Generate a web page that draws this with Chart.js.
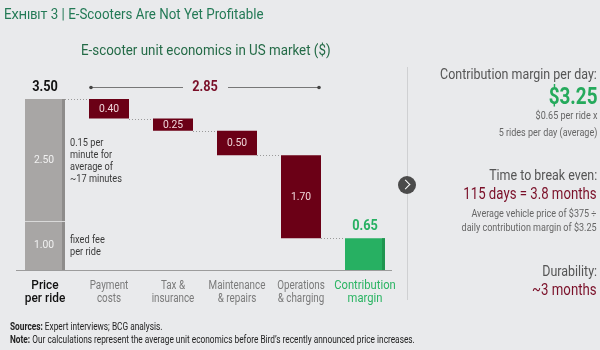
<!DOCTYPE html>
<html>
<head>
<meta charset="utf-8">
<script src="https://cdn.jsdelivr.net/npm/chart.js@4.4.1/dist/chart.umd.min.js"></script>
<style>
  html, body { margin: 0; padding: 0; }
  body { width: 600px; height: 350px; background: #e9eaec; position: relative; overflow: hidden;
         font-family: Roboto, "Noto Sans", sans-serif; }
  #c { position: absolute; left: 0; top: 0; }
  .t { position: absolute; white-space: nowrap; transform-origin: left top; }
  #title { left: 4px; top: 6px; font-size: 14.5px; color: #237a56; transform: scaleX(0.92); }
  #title .sc { font-variant: small-caps; }
  #sub { left: 81px; top: 41px; font-size: 15px; color: #246b47; transform: scaleX(0.89); }
  #divider { position: absolute; left: 407px; top: 67px; width: 1px; height: 233px; background: #cfd0d2; }
  #arrow { position: absolute; left: 398px; top: 176px; width: 18px; height: 18px; border-radius: 50%; background: #4b4b4b; }
  #arrow:after { content: ""; position: absolute; left: 4px; top: 5px; width: 6px; height: 6px;
                 border-right: 1.5px solid #fff; border-top: 1.5px solid #fff; transform: rotate(45deg); }
  .r { position: absolute; right: 3px; text-align: right; white-space: nowrap; transform-origin: right top; }
  .h { font-size: 15px; color: #555; transform: scaleX(0.83); }
  .s { font-size: 11px; color: #666; transform: scaleX(0.82); }
  .m { font-size: 16.5px; color: #7a0f28; transform: scaleX(0.8); }
  #foot { left: 10px; top: 320px; font-size: 10.5px; color: #222; line-height: 13px; transform: scaleX(0.79); }
</style>
</head>
<body>
<canvas id="c" width="600" height="350"></canvas>
<div class="t" id="title"><span class="sc">Exhibit 3</span> | E-Scooters Are Not Yet Profitable</div>
<div class="t" id="sub">E-scooter unit economics in US market ($)</div>
<div id="divider"></div>
<div id="arrow"></div>
<div class="r h" style="top:65px">Contribution margin per day:</div>
<div class="r" style="top:83px;font-size:23px;font-weight:bold;color:#25aa5c;transform:scaleX(0.82)">$3.25</div>
<div class="r s" style="top:109px">$0.65 per ride x</div>
<div class="r s" style="top:126px">5 rides per day (average)</div>
<div class="r h" style="top:166px">Time to break even:</div>
<div class="r m" style="top:184px">115 days = 3.8 months</div>
<div class="r s" style="top:207px">Average vehicle price of $375 ÷</div>
<div class="r s" style="top:221px">daily contribution margin of $3.25</div>
<div class="r h" style="top:262px">Durability:</div>
<div class="r m" style="top:280px">~3 months</div>
<div class="t" id="foot"><b>Sources:</b> Expert interviews; BCG analysis.<br><b>Note:</b> Our calculations represent the average unit economics before Bird’s recently announced price increases.</div>
<script>
const categories = [['Price', 'per ride'], ['Payment', 'costs'], ['Tax &', 'insurance'],
  ['Maintenance', '& repairs'], ['Operations', '& charging'], ['Contribution', 'margin']];
const priceParts = [1.00, 2.50];          // fixed fee, per-minute part
const costValues = [0.40, 0.25, 0.50, 1.70];
const marginValue = 0.65;
const totalCostLabel = '2.85';

const GRAY = '#a8a6a5', GRAY_EDGE = '#8e8c8b', RED = '#6b0016', GREEN = '#27b062', GREEN_EDGE = '#1f9550';
const FONT = 'Roboto, "Noto Sans", sans-serif';

const price = priceParts[0] + priceParts[1];
const lowData = [[0, priceParts[0]], null, null, null, null, [0, marginValue]];
const upData = [[priceParts[0], price]];
let level = price;
costValues.forEach(v => { upData.push([+(level - v).toFixed(2), +level.toFixed(2)]); level -= v; });
upData.push(null);

// narrow text helper (source font is condensed)
function txt(ctx, s, x, y, sx) {
  ctx.save(); ctx.translate(x, y); ctx.scale(sx, 1); ctx.fillText(s, 0, 0); ctx.restore();
}

const annotations = {
  id: 'annotations',
  afterDatasetsDraw(chart) {
    const ctx = chart.ctx, x = chart.scales.x, y = chart.scales.y, area = chart.chartArea;
    const lowBars = chart.getDatasetMeta(0).data, upBars = chart.getDatasetMeta(1).data;
    const edges = b => [b.x - b.width / 2, b.x + b.width / 2];
    ctx.save();
    // darker right edges
    [[lowBars[0], GRAY_EDGE], [upBars[0], GRAY_EDGE], [lowBars[5], GREEN_EDGE]].forEach(([b, c]) => {
      const r = edges(b)[1];
      ctx.fillStyle = c;
      ctx.fillRect(r - 3, Math.min(b.y, b.base), 3, Math.abs(b.base - b.y));
    });
    // separator in price bar
    const [pl, pr] = edges(lowBars[0]);
    const sy = Math.round(y.getPixelForValue(priceParts[0])) + 0.5;
    ctx.strokeStyle = '#d9d9d9'; ctx.lineWidth = 1;
    ctx.beginPath(); ctx.moveTo(pl, sy); ctx.lineTo(pr, sy); ctx.stroke();
    // dotted connectors
    ctx.strokeStyle = '#9a9a9a'; ctx.setLineDash([1, 2]);
    let lv = price;
    for (let i = 0; i < 5; i++) {
      const r = edges(upBars[i])[1];
      const next = i < 4 ? upBars[i + 1] : lowBars[5];
      const l = edges(next)[0];
      if (i > 0) lv -= costValues[i - 1];
      const py = Math.round(y.getPixelForValue(lv)) + 0.5;
      ctx.beginPath(); ctx.moveTo(r, py); ctx.lineTo(l, py); ctx.stroke();
    }
    ctx.setLineDash([]);
    // baseline
    const by = Math.round(y.getPixelForValue(0)) + 0.5;
    ctx.strokeStyle = '#9c9c9c';
    ctx.beginPath(); ctx.moveTo(area.left + 3, by); ctx.lineTo(area.right - 5, by); ctx.stroke();
    // in-bar labels
    ctx.textAlign = 'center'; ctx.textBaseline = 'middle';
    ctx.font = '11.5px ' + FONT;
    ctx.fillStyle = '#f1f1f1';
    txt(ctx, priceParts[0].toFixed(2), upBars[0].x - 1, (lowBars[0].y + lowBars[0].base) / 2, 0.9);
    txt(ctx, priceParts[1].toFixed(2), upBars[0].x - 1, (upBars[0].y + upBars[0].base) / 2, 0.9);
    ctx.fillStyle = '#f0d6da';
    costValues.forEach((v, i) => {
      const b = upBars[i + 1];
      txt(ctx, v.toFixed(2), b.x, (b.y + b.base) / 2, 0.9);
    });
    // totals above
    const topY = y.getPixelForValue(price) - 12;
    ctx.font = 'bold 15px ' + FONT;
    ctx.fillStyle = '#111';
    txt(ctx, price.toFixed(2), x.getPixelForValue(0), topY, 0.85);
    ctx.fillStyle = GREEN;
    txt(ctx, marginValue.toFixed(2), x.getPixelForValue(5), y.getPixelForValue(marginValue) - 12, 0.85);
    // bracket for total cost
    const bl = edges(upBars[1])[0] + 2, br = edges(upBars[4])[1] - 2, bc = (bl + br) / 2;
    ctx.fillStyle = '#7a0f28';
    txt(ctx, totalCostLabel, bc, topY, 0.85);
    ctx.strokeStyle = '#777';
    ctx.beginPath(); ctx.moveTo(bl, topY + 0.5); ctx.lineTo(bc - 22, topY + 0.5);
    ctx.moveTo(bc + 23, topY + 0.5); ctx.lineTo(br, topY + 0.5); ctx.stroke();
    ctx.fillStyle = '#444';
    [bl, br].forEach(px => { ctx.beginPath(); ctx.arc(px, topY + 0.5, 1.8, 0, Math.PI * 2); ctx.fill(); });
    // side notes on price bar
    ctx.textAlign = 'left'; ctx.font = '11.5px ' + FONT; ctx.fillStyle = '#3a3a3a';
    const nx = pr + 5;
    const n1y = y.getPixelForValue(2.6);
    ['0.15 per', 'minute for', 'average of', '~17 minutes'].forEach((s, i) => txt(ctx, s, nx, n1y + i * 12, 0.8));
    ['fixed fee', 'per ride'].forEach((s, i) => txt(ctx, s, nx, y.getPixelForValue(0.62) + i * 12, 0.8));
    // category labels
    ctx.textAlign = 'center';
    categories.forEach((lines, i) => {
      const cx = x.getPixelForValue(i);
      let sx = 0.82;
      if (i === 0) { ctx.font = '500 13.5px ' + FONT; ctx.fillStyle = '#111'; sx = 0.88; }
      else if (i === 5) { ctx.font = '13.5px ' + FONT; ctx.fillStyle = '#2bb463'; sx = 0.83; }
      else { ctx.font = '12px ' + FONT; ctx.fillStyle = '#7a7a7a'; }
      lines.forEach((s, j) => txt(ctx, s, cx, by + 15 + j * 13.5, sx));
    });
    ctx.restore();
  }
};

new Chart(document.getElementById('c'), {
  type: 'bar',
  data: {
    labels: categories.map(c => c.join(' ')),
    datasets: [
      { data: lowData, backgroundColor: [GRAY, GRAY, GRAY, GRAY, GRAY, GREEN], grouped: false,
        categoryPercentage: 1, barPercentage: 0.625, borderWidth: 0 },
      { data: upData, backgroundColor: [GRAY, RED, RED, RED, RED, RED], grouped: false,
        categoryPercentage: 1, barPercentage: 0.625, borderWidth: 0 }
    ]
  },
  options: {
    responsive: false,
    devicePixelRatio: 1,
    animation: false,
    layout: { padding: { left: 13, right: 203, top: 99, bottom: 80 } },
    plugins: { legend: { display: false }, tooltip: { enabled: false } },
    scales: {
      x: { display: false },
      y: { display: false, min: 0, max: price }
    }
  },
  plugins: [annotations]
});
</script>
</body>
</html>
